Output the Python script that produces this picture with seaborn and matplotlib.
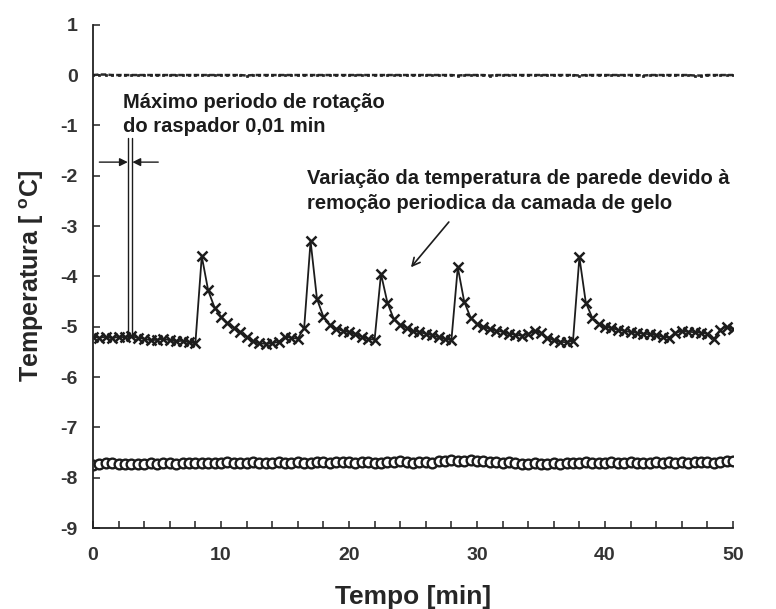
import numpy as np
import pandas as pd
import matplotlib
matplotlib.use("Agg")
import matplotlib.pyplot as plt
import seaborn as sns

# Sampling interval of the logger [min]
intervalo = 0.5
tempo = np.arange(101) * intervalo

# Reference line at 0 °C
temp_zero = [
    0.00, 0.01, 0.01, 0.00, 0.00, 0.00, 0.00, 0.00, 0.00, 0.00,
    0.00, 0.00, 0.00, 0.00, 0.00, 0.00, 0.00, 0.00, 0.00, 0.00,
    0.00, 0.00, 0.00, 0.00, -0.01, 0.00, 0.00, 0.00, 0.00, 0.00,
    0.00, 0.00, 0.00, 0.00, 0.00, 0.00, 0.00, 0.00, 0.00, 0.00,
    0.00, 0.00, 0.00, 0.00, 0.00, 0.00, 0.00, 0.00, 0.00, 0.00,
    0.00, 0.00, 0.00, 0.00, 0.00, 0.00, 0.00, -0.01, 0.00, 0.00,
    0.00, 0.00, -0.01, 0.00, 0.00, 0.00, 0.00, 0.00, 0.00, 0.00,
    0.00, 0.00, 0.00, 0.00, 0.00, 0.00, -0.01, 0.00, 0.00, 0.00,
    0.00, 0.00, 0.00, 0.00, 0.00, 0.00, -0.01, 0.00, 0.00, 0.00,
    0.00, 0.00, 0.00, 0.00, -0.01, -0.01, 0.00, 0.00, 0.00, 0.00,
    0.00,
]

# Wall temperature (periodic removal of the ice layer)
temp_parede = [
    -5.20, -5.22, -5.20, -5.23, -5.20, -5.21, -5.19, -5.22, -5.24, -5.27,
    -5.26, -5.24, -5.27, -5.29, -5.28, -5.31, -5.33, -3.60, -4.28, -4.62,
    -4.80, -4.93, -5.02, -5.10, -5.20, -5.29, -5.33, -5.34, -5.33, -5.30,
    -5.20, -5.22, -5.24, -5.02, -3.30, -4.45, -4.80, -4.96, -5.04, -5.08,
    -5.11, -5.15, -5.20, -5.24, -5.26, -3.95, -4.52, -4.85, -4.96, -5.02,
    -5.08, -5.11, -5.14, -5.17, -5.21, -5.24, -5.27, -3.82, -4.50, -4.82,
    -4.94, -5.00, -5.05, -5.08, -5.10, -5.14, -5.16, -5.18, -5.14, -5.09,
    -5.12, -5.22, -5.27, -5.30, -5.31, -5.28, -3.62, -4.52, -4.82, -4.95,
    -5.00, -5.03, -5.06, -5.08, -5.11, -5.12, -5.14, -5.15, -5.17, -5.20,
    -5.22, -5.12, -5.09, -5.10, -5.11, -5.12, -5.14, -5.25, -5.06, -5.00,
    -5.05,
]

# Coolant temperature
temp_fluido = [
    -7.74, -7.73, -7.71, -7.70, -7.72, -7.72, -7.73, -7.72, -7.72, -7.71,
    -7.72, -7.71, -7.70, -7.72, -7.71, -7.70, -7.71, -7.70, -7.71, -7.70,
    -7.70, -7.69, -7.71, -7.70, -7.70, -7.69, -7.70, -7.71, -7.70, -7.69,
    -7.70, -7.70, -7.68, -7.70, -7.71, -7.69, -7.68, -7.70, -7.69, -7.68,
    -7.69, -7.70, -7.68, -7.69, -7.70, -7.71, -7.69, -7.68, -7.67, -7.69,
    -7.70, -7.68, -7.69, -7.70, -7.67, -7.66, -7.65, -7.66, -7.67, -7.65,
    -7.66, -7.67, -7.68, -7.69, -7.70, -7.69, -7.71, -7.72, -7.73, -7.71,
    -7.72, -7.73, -7.71, -7.72, -7.70, -7.71, -7.70, -7.69, -7.70, -7.71,
    -7.70, -7.69, -7.71, -7.70, -7.69, -7.70, -7.71, -7.70, -7.69, -7.70,
    -7.69, -7.70, -7.69, -7.70, -7.69, -7.68, -7.69, -7.70, -7.69, -7.67,
    -7.66,
]

xticks_major = [0, 10, 20, 30, 40, 50]
yticks = [1, 0, -1, -2, -3, -4, -5, -6, -7, -8, -9]

sns.set_style("ticks")
plt.rcParams["font.family"] = ["Liberation Sans", "DejaVu Sans"]

df = pd.DataFrame({
    "tempo": tempo,
    "zero": temp_zero,
    "parede": temp_parede,
    "fluido": temp_fluido,
})

fig = plt.figure(figsize=(7.76, 6.09), dpi=100)
ax = fig.add_axes([0.1198, 0.133, 0.8248, 0.8264])

ink = "#1c1c1c"

sns.lineplot(data=df, x="tempo", y="zero", ax=ax, estimator=None, sort=False,
             color="#2a2a2a", linewidth=1.8, linestyle=(0, (2.2, 0.9)),
             marker="s", markersize=1.8, markeredgecolor="#1a1a1a",
             markeredgewidth=0.5)
sns.lineplot(data=df, x="tempo", y="parede", ax=ax, estimator=None, sort=False,
             color=ink, linewidth=1.3, marker="x", markersize=6.5,
             markeredgecolor=ink, markeredgewidth=1.8)
sns.lineplot(data=df, x="tempo", y="fluido", ax=ax, estimator=None, sort=False,
             color=ink, linewidth=1.0, marker="o", markersize=7,
             markerfacecolor="white", markeredgecolor=ink,
             markeredgewidth=1.7)

ax.set_xlim(0, 50)
ax.set_ylim(-9, 1)
ax.set_xticks(xticks_major)
ax.set_xticks(np.arange(0, 51, 2), minor=True)
ax.set_yticks(yticks)
ax.set_yticklabels([str(v) for v in yticks])

sns.despine(ax=ax)
for side in ("left", "bottom"):
    ax.spines[side].set_linewidth(1.3)
    ax.spines[side].set_color("#222222")

ax.tick_params(axis="both", which="both", direction="in", length=5,
               width=1.1, color="#222222")
ax.tick_params(axis="x", which="major", pad=14)
ax.tick_params(axis="y", which="major", pad=11)
for lab in ax.get_xticklabels() + ax.get_yticklabels():
    lab.set_fontsize(14)
    lab.set_fontweight("bold")
    lab.set_color("#333333")

ax.set_xlabel("Tempo [min]", fontsize=19, fontweight="bold", labelpad=15)
ax.set_ylabel("Temperatura [ $^{\\mathregular{o}}$C]", fontsize=18,
              fontweight="bold", labelpad=10)

# Scraper rotation period marker
x_esq, x_dir = 2.72, 3.08
ax.plot([x_esq, x_esq], [-5.2, -1.25], color=ink, linewidth=1.0)
ax.plot([x_dir, x_dir], [-5.2, -1.25], color=ink, linewidth=1.0)
ax.annotate("", xy=(x_esq, -1.73), xytext=(0.5, -1.73),
            arrowprops=dict(arrowstyle="-|>", color=ink, lw=1.0,
                            mutation_scale=12, shrinkA=0, shrinkB=0))
ax.annotate("", xy=(x_dir, -1.73), xytext=(5.1, -1.73),
            arrowprops=dict(arrowstyle="-|>", color=ink, lw=1.0,
                            mutation_scale=12, shrinkA=0, shrinkB=0))

ax.text(2.34, -0.66, "Máximo periodo de rotação", fontsize=14.5,
        fontweight="bold", color=ink, va="baseline", ha="left")
ax.text(2.34, -1.14, "do raspador 0,01 min", fontsize=14.5,
        fontweight="bold", color=ink, va="baseline", ha="left")

ax.text(16.7, -2.17, "Variação da temperatura de parede devido à",
        fontsize=14.5, fontweight="bold", color=ink, va="baseline", ha="left")
ax.text(16.7, -2.67, "remoção periodica da camada de gelo",
        fontsize=14.5, fontweight="bold", color=ink, va="baseline", ha="left")
ax.annotate("", xy=(24.84, -3.82), xytext=(27.8, -2.92),
            arrowprops=dict(arrowstyle="->", color=ink, lw=1.2,
                            mutation_scale=14, shrinkA=0, shrinkB=0))

fig.savefig("out.png", dpi=100)
